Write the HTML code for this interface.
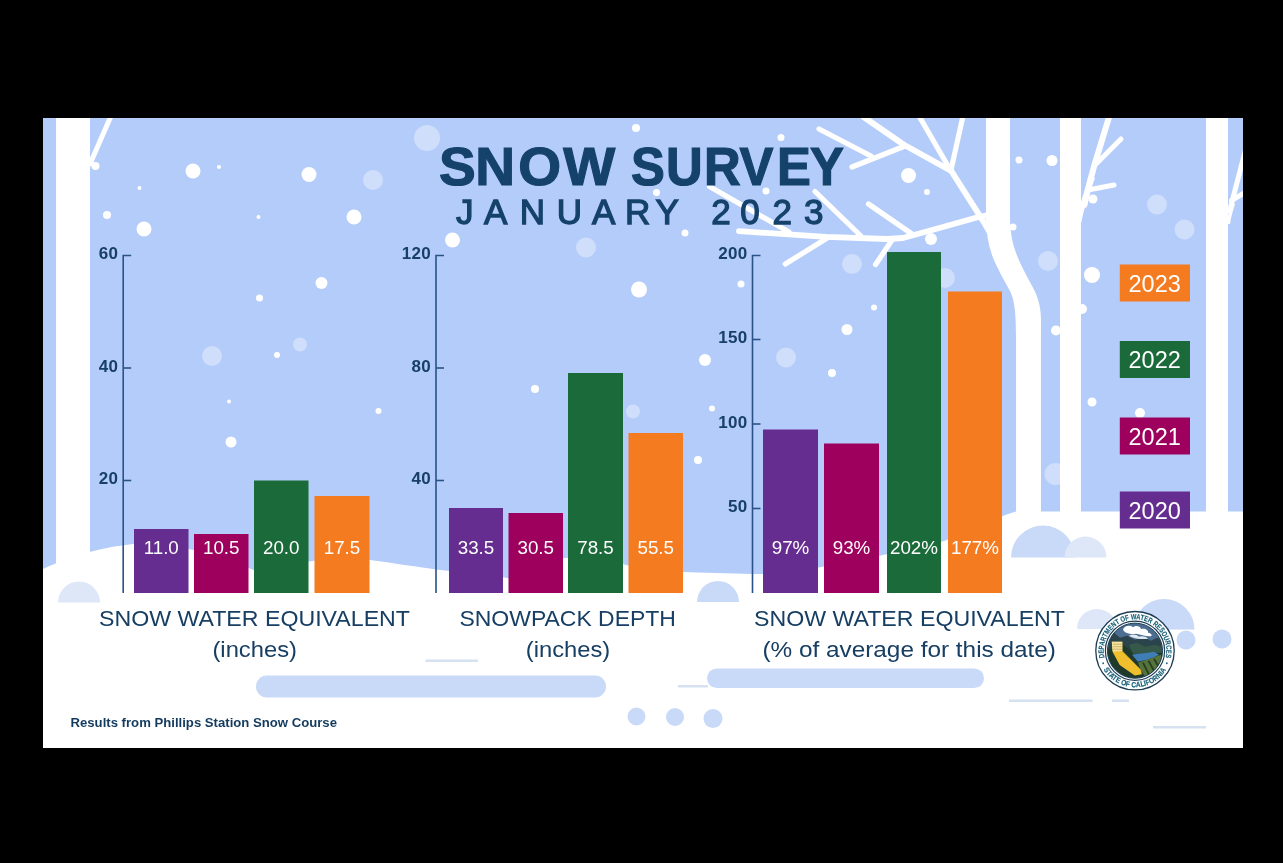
<!DOCTYPE html>
<html lang="en">
<head>
<meta charset="utf-8">
<title>Snow Survey January 2023</title>
<style>
html,body{margin:0;padding:0;background:#000;}
body{width:1283px;height:863px;overflow:hidden;position:relative;font-family:"Liberation Sans",sans-serif;}
svg{position:absolute;left:0;top:0;display:block;}
text{font-family:"Liberation Sans",sans-serif;}
.navy{fill:#15426b;}
.ax{font-size:17px;font-weight:bold;fill:#173f68;letter-spacing:0.3px;text-anchor:end;}
.val{font-size:18.8px;fill:#fff;text-anchor:middle;}
.lab{font-size:22.3px;fill:#173e63;text-anchor:middle;}
.leg{font-size:23.5px;fill:#fff;text-anchor:middle;}
</style>
</head>
<body>
<svg width="1283" height="863" viewBox="0 0 1283 863">
<defs>
<clipPath id="frame"><rect x="43" y="118" width="1200" height="630"/></clipPath>
</defs>
<rect x="0" y="0" width="1283" height="863" fill="#000"/>
<g clip-path="url(#frame)">
<!-- SKY -->
<rect x="43" y="118" width="1200" height="630" fill="#b4ccf9"/>
<!-- GROUND -->
<g id="ground">

<path d="M43,569 C70,556 110,544 150,543 C180,544 215,556 251,569 C275,578 300,588 320,597 L43,597 Z" fill="#fff"/>
<path d="M225,597 C250,580 280,566 312,561 C335,557.5 355,558 370,560 C395,563.5 420,567 436,569.5 C460,572.5 490,574 512,579 L540,597 Z" fill="#fff"/>
<path d="M493,597 C505,580 530,562 565,558 C590,555 610,560 626,565 C650,570 670,571 683,572 C700,573 730,573 752,574 C775,574.5 800,571 821,567 C845,563 865,559 883,555 C905,550 925,546 944,541 C970,533 990,519 1016,511.5 L1243,511.5 L1243,597 Z" fill="#fff"/>
<rect x="43" y="593" width="1200" height="155" fill="#fff"/>

</g><!--/ground-->
<!-- TREES -->
<g id="trees">

<circle cx="1055.5" cy="474" r="11" fill="#cfdefb"/>
<circle cx="1082" cy="309" r="5" fill="#fff"/>
<g fill="#fff" stroke="none">
<rect x="56" y="118" width="34" height="480"/>
<path d="M986,118 L1010,118 L1010,220 C1010.5,232 1012,240 1014,247 C1018,260 1025,273 1031,284 C1036,293 1041,303 1041,320 L1041,560 L1016,560 L1016,336 C1016,310 1014,299 1010,291 C1004,280 996,266 992,255 C988,244 986.5,232 986,220 Z"/>
<rect x="1060" y="118" width="21" height="450"/>
<rect x="1206" y="118" width="22" height="450"/>
<path d="M1080,222 L1080,205 C1083,195 1086,186 1089,176 L1095,178 C1091,189 1087,200 1084.5,209 C1083,214 1082,218 1081.5,222 Z"/>
<path d="M1227,224 C1228,216 1229,209 1231,202 L1235,204 C1233,210 1231,217 1230,224 Z"/>
</g>
<g fill="none" stroke="#fff" stroke-width="5.2" stroke-linecap="round" stroke-linejoin="round">
<path d="M90,164 L111,116" stroke-width="5"/>
<path d="M863.7,117 L903.5,144.5 L951.3,171 L985,224 L992,236" stroke-width="6"/>
<path d="M951,170 L963,116"/>
<path d="M948,166 L919,116"/>
<path d="M905,146 L852,167"/>
<path d="M819,129 L871,156"/>
<path d="M992,214 L975,218 L934,229.5 L903,238 L887,239 L826,236.8 L739,231.2" stroke-width="5.8"/>
<path d="M912,234 L868.5,204"/>
<path d="M861,236 L815,191.5"/>
<path d="M789,232 L709.5,186.5"/>
<path d="M826.5,238.5 L785.3,264"/>
<path d="M891.7,240.5 L875.6,264.5"/>
<path d="M1084.5,205 C1088,188 1094,166 1099,150 L1110,114" stroke-width="6"/>
<path d="M1096,164 L1121,139" stroke-width="5"/>
<path d="M1088,190 L1114,185" stroke-width="5"/>
<path d="M1229.6,211 L1245,152" stroke-width="5"/>
<path d="M1231.5,200.5 L1245,192.5" stroke-width="5"/>
</g>

</g><!--/trees-->
<!-- TITLE TEXT -->
<g id="titles">

<text x="430.4 466.0 508.1 552.3" y="184.6" transform="scale(1.02,1)" class="navy" font-size="54" font-weight="bold" stroke="#15426b" stroke-width="1.2">SNOW</text>
<text x="671.3 708.4 748.9 786.7 826.5 861.7" y="184.6" transform="scale(0.94,1)" class="navy" font-size="54" font-weight="bold" stroke="#15426b" stroke-width="1.2">SURVEY</text>
<text x="456.1 484.1 519.8 556.7 591.9 624.9 655.6 690 711.3 740.2 772.5 803.9" y="223.9" class="navy" font-size="35" stroke="#15426b" stroke-width="1.3">JANUARY 2023</text>

</g><!--/titles-->
<!-- SNOW -->
<g id="snow">
<g fill="#cfdefb">
<circle cx="427" cy="138" r="13"/>
<circle cx="373" cy="180" r="10"/>
<circle cx="586" cy="247.5" r="10"/>
<circle cx="852" cy="264" r="10"/>
<circle cx="945" cy="278" r="10"/>
<circle cx="1157" cy="204.5" r="10"/>
<circle cx="1184.5" cy="229.5" r="10"/>
<circle cx="1048" cy="261" r="10"/>
<circle cx="212" cy="356" r="10"/>
<circle cx="300" cy="344.5" r="7"/>
<circle cx="633" cy="411.5" r="7"/>
<circle cx="786" cy="357.5" r="10"/>
</g>
<g fill="#fff">
<circle cx="193" cy="171" r="7.5"/>
<circle cx="219" cy="167" r="2"/>
<circle cx="309" cy="174.5" r="7.5"/>
<circle cx="139.5" cy="188" r="2"/>
<circle cx="107" cy="215" r="4"/>
<circle cx="144" cy="229" r="7.5"/>
<circle cx="258.5" cy="217" r="2"/>
<circle cx="354" cy="217" r="7.5"/>
<circle cx="321.5" cy="283" r="6"/>
<circle cx="259.5" cy="298" r="3.5"/>
<circle cx="95.5" cy="166" r="4"/>
<circle cx="636" cy="128" r="4"/>
<circle cx="656.5" cy="192.5" r="3.5"/>
<circle cx="452.5" cy="240" r="7.5"/>
<circle cx="639" cy="289.5" r="8"/>
<circle cx="781" cy="137.5" r="3.5"/>
<circle cx="908.5" cy="175.5" r="7.5"/>
<circle cx="927" cy="192" r="3"/>
<circle cx="766" cy="191" r="3.5"/>
<circle cx="685" cy="233" r="3.5"/>
<circle cx="931" cy="239" r="6"/>
<circle cx="741" cy="284" r="3.5"/>
<circle cx="874" cy="307.5" r="3"/>
<circle cx="1019" cy="160" r="3.5"/>
<circle cx="1052" cy="160.5" r="5.5"/>
<circle cx="1093" cy="199" r="4.5"/>
<circle cx="1013" cy="227" r="3.5"/>
<circle cx="1092" cy="275" r="8"/>
<circle cx="277" cy="355" r="3"/>
<circle cx="229" cy="401.5" r="2"/>
<circle cx="231" cy="442" r="5.5"/>
<circle cx="378.5" cy="411" r="3"/>
<circle cx="535" cy="389" r="4"/>
<circle cx="847" cy="329.5" r="5.5"/>
<circle cx="705" cy="360" r="6"/>
<circle cx="832" cy="373" r="4"/>
<circle cx="712" cy="408.5" r="3"/>
<circle cx="698" cy="460" r="4"/>
<circle cx="1056" cy="330.5" r="5"/>
<circle cx="1092" cy="402" r="4.5"/>
<circle cx="1140" cy="413" r="5"/>
</g>
</g><!--/snow-->
<!-- DECOR -->
<g id="decor">
<path d="M58,602.5 A21,21 0 0 1 100,602.5 Z" fill="#dde7f8"/>
<path d="M697,602 A21,21 0 0 1 739,602 Z" fill="#c9d9f8"/>
<path d="M1011,557.6 A32,32 0 0 1 1075,557.6 Z" fill="#c9d9f8"/>
<path d="M1064.5,557.6 A21,21 0 0 1 1106.5,557.6 Z" fill="#dde7f8"/>
<path d="M1133.5,629.5 A30.5,30.5 0 0 1 1194.5,629.5 Z" fill="#c9d9f8"/>
<path d="M1077,629 A20,20 0 0 1 1117,629 Z" fill="#dde7f8"/>
<rect x="256" y="675.5" width="350" height="22" rx="11" fill="#c9d9f8"/>
<rect x="707" y="668.4" width="277" height="19.6" rx="9.8" fill="#c9d9f8"/>
<rect x="425.5" y="659.5" width="52.5" height="2.5" fill="#d6e2f1"/>
<rect x="678" y="685" width="30" height="2.5" fill="#d6e2f1"/>
<rect x="1009" y="699.5" width="83.5" height="2.5" fill="#d6e2f1"/>
<rect x="1112" y="699.5" width="17" height="2.5" fill="#d6e2f1"/>
<rect x="1153" y="726" width="53" height="2.5" fill="#d6e2f1"/>
<g fill="#c9d9f8">
<circle cx="636.5" cy="716.5" r="9"/><circle cx="675" cy="717" r="9"/><circle cx="713" cy="718.5" r="9.5"/>
<circle cx="1186" cy="640" r="9.5"/><circle cx="1222" cy="639" r="9.5"/>
</g>
</g><!--/decor-->
<!-- CHARTS -->
<g id="charts">
<path d="M123.2,593 L123.2,255.5 L131.2,255.5" fill="none" stroke="#2a5286" stroke-width="1.6"/>
<text class="ax" x="118.2" y="259.3">60</text>
<path d="M123.2,368 L131.2,368" stroke="#2a5286" stroke-width="1.6"/>
<text class="ax" x="118.2" y="371.8">40</text>
<path d="M123.2,480.5 L131.2,480.5" stroke="#2a5286" stroke-width="1.6"/>
<text class="ax" x="118.2" y="484.3">20</text>
<path d="M436,593 L436,255.5 L444,255.5" fill="none" stroke="#2a5286" stroke-width="1.6"/>
<text class="ax" x="431" y="259.3">120</text>
<path d="M436,368 L444,368" stroke="#2a5286" stroke-width="1.6"/>
<text class="ax" x="431" y="371.8">80</text>
<path d="M436,480.5 L444,480.5" stroke="#2a5286" stroke-width="1.6"/>
<text class="ax" x="431" y="484.3">40</text>
<path d="M752.5,593 L752.5,255.5 L760.5,255.5" fill="none" stroke="#2a5286" stroke-width="1.6"/>
<text class="ax" x="747.5" y="259.3">200</text>
<path d="M752.5,339.5 L760.5,339.5" stroke="#2a5286" stroke-width="1.6"/>
<text class="ax" x="747.5" y="343.3">150</text>
<path d="M752.5,424 L760.5,424" stroke="#2a5286" stroke-width="1.6"/>
<text class="ax" x="747.5" y="427.8">100</text>
<path d="M752.5,508.5 L760.5,508.5" stroke="#2a5286" stroke-width="1.6"/>
<text class="ax" x="747.5" y="512.3">50</text>
<rect x="134" y="529" width="54.5" height="64" fill="#662d91"/>
<text class="val" x="161.25" y="553.5">11.0</text>
<rect x="194" y="534" width="54.5" height="59" fill="#9e005d"/>
<text class="val" x="221.25" y="553.5">10.5</text>
<rect x="254" y="480.5" width="54.5" height="112.5" fill="#1b6b3a"/>
<text class="val" x="281.25" y="553.5">20.0</text>
<rect x="314.5" y="496" width="55" height="97" fill="#f47b20"/>
<text class="val" x="342" y="553.5">17.5</text>
<rect x="449" y="508" width="54" height="85" fill="#662d91"/>
<text class="val" x="476" y="553.5">33.5</text>
<rect x="508.5" y="513" width="54.5" height="80" fill="#9e005d"/>
<text class="val" x="535.75" y="553.5">30.5</text>
<rect x="568" y="373" width="55" height="220" fill="#1b6b3a"/>
<text class="val" x="595.5" y="553.5">78.5</text>
<rect x="628.5" y="433" width="54.5" height="160" fill="#f47b20"/>
<text class="val" x="655.75" y="553.5">55.5</text>
<rect x="763" y="429.5" width="55" height="163.5" fill="#662d91"/>
<text class="val" x="790.5" y="553.5">97%</text>
<rect x="824" y="443.5" width="55" height="149.5" fill="#9e005d"/>
<text class="val" x="851.5" y="553.5">93%</text>
<rect x="887" y="252" width="54" height="341" fill="#1b6b3a"/>
<text class="val" x="914" y="553.5">202%</text>
<rect x="948" y="291.5" width="54" height="301.5" fill="#f47b20"/>
<text class="val" x="975" y="553.5">177%</text>
<rect x="1119.8" y="264.5" width="70.2" height="37" fill="#f47b20"/>
<text class="leg" x="1154.7" y="291.8">2023</text>
<rect x="1119.8" y="341" width="70.2" height="37" fill="#1b6b3a"/>
<text class="leg" x="1154.7" y="368.3">2022</text>
<rect x="1119.8" y="417.5" width="70.2" height="37" fill="#9e005d"/>
<text class="leg" x="1154.7" y="444.8">2021</text>
<rect x="1119.8" y="491.5" width="70.2" height="37" fill="#662d91"/>
<text class="leg" x="1154.7" y="518.8">2020</text>
</g><!--/charts-->
<!-- LABEL TEXT -->
<g id="labels">

<text class="lab" x="254.5" y="626" textLength="311" lengthAdjust="spacingAndGlyphs">SNOW WATER EQUIVALENT</text>
<text class="lab" x="254.7" y="657" textLength="84.5" lengthAdjust="spacingAndGlyphs">(inches)</text>
<text class="lab" x="567.7" y="626" textLength="216.5" lengthAdjust="spacingAndGlyphs">SNOWPACK DEPTH</text>
<text class="lab" x="568" y="657" textLength="84.5" lengthAdjust="spacingAndGlyphs">(inches)</text>
<text class="lab" x="909.5" y="626" textLength="311" lengthAdjust="spacingAndGlyphs">SNOW WATER EQUIVALENT</text>
<text class="lab" x="909.2" y="657" textLength="293.5" lengthAdjust="spacingAndGlyphs">(% of average for this date)</text>
<text x="70.5" y="727" fill="#123a5e" font-size="13" font-weight="bold" textLength="266.5" lengthAdjust="spacingAndGlyphs">Results from Phillips Station Snow Course</text>

</g><!--/labels-->
<!-- SEAL -->
<g id="seal">

<defs>
<path id="sealTop" d="M1104.50,657.74 A31.3,31.3 0 1 1 1165.50,657.74"/>
<path id="sealBot" d="M1103.63,669.55 A36.6,36.6 0 0 0 1166.37,669.55"/>
<clipPath id="sealClip"><circle cx="1135" cy="650.7" r="27.3"/></clipPath>
</defs>
<circle cx="1135" cy="650.7" r="39.2" fill="#fff" stroke="#1d3d55" stroke-width="1.3"/>
<circle cx="1135" cy="650.7" r="29.6" fill="#fff" stroke="#1d3d55" stroke-width="1.2"/>
<g clip-path="url(#sealClip)">
<g transform="translate(1135,650.7)">
<rect x="-28" y="-28" width="56" height="56" fill="#28443f"/>
<rect x="-28" y="-28" width="56" height="20" fill="#4d6d92"/>
<path d="M-28,-16 L-22,-19 L-15,-13 L-8,-15 L0,-11 L8,-14 L16,-10 L22,-13 L28,-10 L28,-5 L-28,-5 Z" fill="#2b444c"/>
<path d="M-12,-21 C-11,-25 -5,-26 -2,-23.5 C1,-26 6,-24.5 6,-21.5 C9,-23 14,-21 13,-18 C15,-18 18,-16 16,-14.5 C11,-14 6,-16 1,-17 C-3,-16 -10,-17 -12,-21 Z" fill="#fff"/>
<path d="M-6,-15 C-3,-17 2,-16 4,-14 C8,-15 12,-14 13,-12 C8,-11 -2,-12 -6,-15 Z" fill="#dfe8f2"/>
<path d="M-28,0 L-12,-6 L-2,2 L28,-4 L28,28 L-28,28 Z" fill="#1f3a2b"/>
<path d="M-6,-6 L2,-8 L10,-4 L20,-6 L28,-3 L28,2 L-2,3 Z" fill="#35584a"/>
<path d="M-3,4 C4,2 12,3 19,1 L24,4 C17,8 8,10 3,11 Z" fill="#3f7db6"/>
<path d="M3,12 L26,4 L28,15 L11,27 L6,20 Z" fill="#55733a"/>
<path d="M8,12 L14,24 M13.5,10 L19.5,21 M19,8 L24.5,17.5" stroke="#263d25" stroke-width="1.8" fill="none"/>
<path d="M-23.2,-8.9 L-12.7,-8.9 L-12.7,0.3 L5.6,18.9 L6.9,23.5 L-0.2,24.7 L-15.3,14.3 L-22.2,1.5 Z" fill="#f0bf2e"/>
<path d="M-23.2,-8.9 L-12.7,-8.9 L-12.7,0.3 L-22.4,0.8 Z" fill="#f2e2a6"/>
<path d="M-22,-6.5 L-13,-6.5 M-22,-4 L-13,-4 M-22,-1.5 L-13,-1.5" stroke="#c29d40" stroke-width="0.7" fill="none"/>
<path d="M-12.7,0.3 L5.6,18.9" stroke="#b98f25" stroke-width="0.8" fill="none"/>
</g>
</g>
<circle cx="1135" cy="650.7" r="27.6" fill="none" stroke="#1d3d55" stroke-width="1"/>
<g font-size="7.6" font-weight="bold" fill="#17607a" stroke="#17607a" stroke-width="0.15">
<text><textPath href="#sealTop" textLength="112.0" lengthAdjust="spacingAndGlyphs">DEPARTMENT OF WATER RESOURCES</textPath></text>
<text><textPath href="#sealBot" textLength="74.9" lengthAdjust="spacingAndGlyphs">STATE OF CALIFORNIA</textPath></text>
</g>
<circle cx="1103.18" cy="663.23" r="0.9" fill="#1b6a80"/><circle cx="1166.82" cy="663.23" r="0.9" fill="#1b6a80"/>

</g><!--/seal-->
</g>
</svg>
</body>
</html>
